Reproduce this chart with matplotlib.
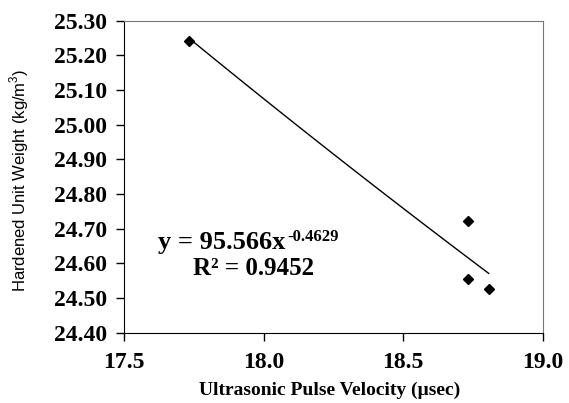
import numpy as np
import matplotlib
matplotlib.use("Agg")
import matplotlib.pyplot as plt

# data
upv = [17.733, 18.733, 18.733, 18.806]
weight = [25.242, 24.721, 24.556, 24.526]

# power trendline as printed on the chart
coef_a = 95.566
coef_b = -0.4629
r2 = 0.9452

fig = plt.figure(figsize=(5.69, 4.03), dpi=100, facecolor='white')
ax = fig.add_axes([0.218, 0.174, 0.736, 0.775])

xt = np.linspace(min(upv), max(upv), 50)
ax.plot(xt, coef_a * xt ** coef_b, color='black', linewidth=1)
ax.plot(upv, weight, linestyle='none', marker='D', markersize=5, color='black')

ax.set_xlim(17.5, 19.0)
ax.set_ylim(24.40, 25.30)
ax.set_xticks([17.5, 18.0, 18.5, 19.0])
ax.set_yticks(np.arange(24.40, 25.31, 0.10))
ax.set_xticklabels(['17.5', '18.0', '18.5', '19.0'])
ax.set_yticklabels(['%.2f' % v for v in np.arange(24.40, 25.31, 0.10)])

for lab in ax.get_xticklabels() + ax.get_yticklabels():
    lab.set_fontfamily('Liberation Serif')
    lab.set_fontweight('bold')
    lab.set_fontsize(17)

ax.tick_params(direction='out', length=6, width=1, color='black', pad=6)
ax.tick_params(axis='x', pad=8)
for s in ['left', 'bottom']:
    ax.spines[s].set_color('black')
for s in ['top', 'right']:
    ax.spines[s].set_color('#777777')

ax.set_ylabel('Hardened Unit Weight (kg/m$^{\\mathregular{3}}$)', family='Liberation Sans',
              fontsize=12)
ax.yaxis.set_label_coords(-0.222, 0.49)
ax.set_xlabel('Ultrasonic Pulse Velocity (µsec)', family='Liberation Serif',
              fontweight='bold', fontsize=14)
ax.xaxis.set_label_coords(0.49, -0.155)

eq = ax.text(0.08, 0.29, 'y = 95.566x', transform=ax.transAxes, ha='left', va='center',
             family='Liberation Serif', fontweight='bold', fontsize=19)
ax.annotate('%.4f' % coef_b, xy=(1, 1), xycoords=eq, xytext=(2, 1), textcoords='offset points',
            ha='left', va='top', family='Liberation Serif', fontweight='bold', fontsize=12)
ax.text(0.31, 0.205, 'R² = %.4f' % r2, transform=ax.transAxes, ha='center', va='center',
        family='Liberation Serif', fontweight='bold', fontsize=18)

fig.savefig('out.png', dpi=100)
